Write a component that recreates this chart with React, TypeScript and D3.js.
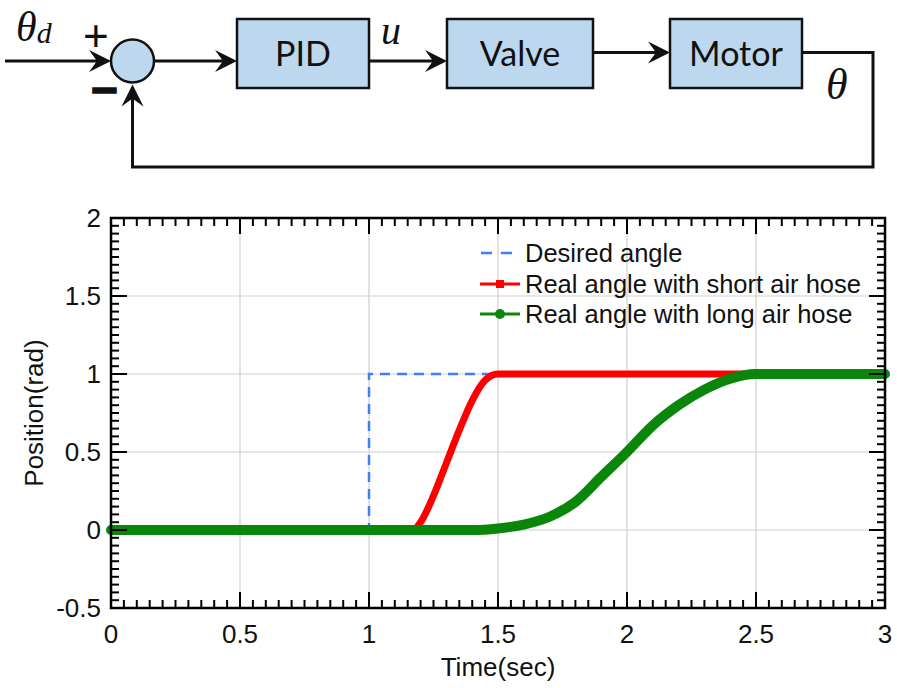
import React from "react";
import * as d3 from "d3";

// ---- data ----
const desiredT = [0, 1, 1, 3];
const desiredV = [0, 0, 1, 1];
const shortT = [0, 1.17, 1.2, 1.25, 1.3, 1.35, 1.4, 1.45, 1.5, 3];
const shortV = [0, 0, 0.05, 0.22, 0.43, 0.64, 0.83, 0.96, 1, 1];
const longT = [0, 1.4, 1.5, 1.6, 1.7, 1.8, 1.9, 2.0, 2.1, 2.2, 2.3, 2.4, 2.5, 3];
const longV = [0, 0, 0.01, 0.035, 0.085, 0.18, 0.34, 0.5, 0.67, 0.8, 0.9, 0.97, 1, 1];
const xTickLabels = ["0", "0.5", "1", "1.5", "2", "2.5", "3"];
const yTickLabels = ["-0.5", "0", "0.5", "1", "1.5", "2"];
const legendLabels = [
  "Desired angle",
  "Real angle with short air hose",
  "Real angle with long air hose",
];
const blockLabels = ["PID", "Valve", "Motor"];

const W = 897;
const H = 688;
const M = { left: 111, right: 885, top: 218, bottom: 608 };
const FONT = "'Liberation Sans', Arial, sans-serif";
const SERIF = "'Liberation Serif', 'DejaVu Serif', serif";

function arrowHead(tipX: number, tipY: number, dir: "right" | "up") {
  const L = 22, h = 11, notch = 8;
  if (dir === "right") {
    return `M${tipX},${tipY} L${tipX - L},${tipY - h} L${tipX - L + notch},${tipY} L${tipX - L},${tipY + h} Z`;
  }
  return `M${tipX},${tipY} L${tipX - h},${tipY + L} L${tipX},${tipY + L - notch} L${tipX + h},${tipY + L} Z`;
}

export default function App() {
  const x = d3.scaleLinear().domain([0, 3]).range([M.left, M.right]);
  const y = d3.scaleLinear().domain([-0.5, 2]).range([M.bottom, M.top]);

  const majorX = xTickLabels.map(Number);
  const majorY = yTickLabels.map(Number);
  const isMajor = (v: number) => Math.abs(v / 0.5 - Math.round(v / 0.5)) < 1e-6;
  const minorX = d3.range(0, 3.0001, 0.05).filter((v) => !isMajor(v));
  const minorY = d3.range(-0.5, 2.0001, 0.05).filter((v) => !isMajor(v));

  const straight = d3.line<[number, number]>().x((d) => x(d[0])).y((d) => y(d[1]));
  const smooth = d3
    .line<[number, number]>()
    .x((d) => x(d[0]))
    .y((d) => y(d[1]))
    .curve(d3.curveMonotoneX);

  const desired = desiredT.map((t, i) => [t, desiredV[i]] as [number, number]);
  const shortS = shortT.map((t, i) => [t, shortV[i]] as [number, number]);
  const longS = longT.map((t, i) => [t, longV[i]] as [number, number]);

  const majorLen = 16;
  const minorLen = 8;

  const boxes = [
    { x0: 237, x1: 369 },
    { x0: 447, x1: 593 },
    { x0: 670, x1: 802 },
  ];
  const boxTop = 19, boxBot = 88;
  const cx = 132.5, cy = 61, cr = 21.5;
  const blockFill = "#bdd7ee";
  const stroke = "#111";

  return (
    <svg width={W} height={H} style={{ position: "absolute", left: 0, top: 0, background: "#fff" }}>
      {/* ---------- Block diagram ---------- */}
      <g>
        <line x1={5} y1={cy} x2={cx - cr - 4} y2={cy} stroke={stroke} strokeWidth={3} />
        <path d={arrowHead(cx - cr, cy, "right")} fill={stroke} />
        <circle cx={cx} cy={cy} r={cr} fill={blockFill} stroke={stroke} strokeWidth={2.5} />
        <line x1={cx + cr} y1={cy} x2={boxes[0].x0 - 4} y2={cy} stroke={stroke} strokeWidth={3} />
        <path d={arrowHead(boxes[0].x0, cy, "right")} fill={stroke} />
        <line x1={boxes[0].x1} y1={cy} x2={boxes[1].x0 - 4} y2={cy} stroke={stroke} strokeWidth={3} />
        <path d={arrowHead(boxes[1].x0, cy, "right")} fill={stroke} />
        <line x1={boxes[1].x1} y1={52.5} x2={boxes[2].x0 - 4} y2={52.5} stroke={stroke} strokeWidth={3} />
        <path d={arrowHead(boxes[2].x0, 52.5, "right")} fill={stroke} />
        <polyline
          points={`${boxes[2].x1},52.5 873,52.5 873,167 ${cx},167 ${cx},${cy + cr + 8}`}
          fill="none"
          stroke={stroke}
          strokeWidth={3}
        />
        <path d={arrowHead(cx, cy + cr + 2, "up")} fill={stroke} />
        {boxes.map((b, i) => (
          <g key={i}>
            <rect x={b.x0} y={boxTop} width={b.x1 - b.x0} height={boxBot - boxTop} fill={blockFill} stroke={stroke} strokeWidth={2.5} />
            <text x={(b.x0 + b.x1) / 2} y={66} textAnchor="middle" fontFamily="Lato, 'Open Sans', sans-serif" fontSize={34} fill="#111">
              {blockLabels[i]}
            </text>
          </g>
        ))}
        <text x={16} y={41} fontFamily={SERIF} fontStyle="italic" fontSize={42} fill="#111">
          θ
          <tspan fontSize={30} dy={2}>d</tspan>
        </text>
        <text x={83} y={51} fontFamily={FONT} fontSize={44} fill="#111">+</text>
        <text x={91} y={106} fontFamily={FONT} fontSize={46} fontWeight="bold" fill="#111" stroke="#111" strokeWidth={1.5}>−</text>
        <text x={381} y={44} fontFamily={SERIF} fontStyle="italic" fontSize={40} fill="#111">u</text>
        <text x={826} y={99} fontFamily={SERIF} fontStyle="italic" fontSize={44} fill="#111">θ</text>
      </g>

      {/* ---------- Chart ---------- */}
      <g>
        {majorX.slice(1, -1).map((v) => (
          <line key={"gx" + v} x1={x(v)} x2={x(v)} y1={M.top} y2={M.bottom} stroke="#cfcfcf" strokeWidth={1.2} />
        ))}
        {majorY.slice(1, -1).map((v) => (
          <line key={"gy" + v} x1={M.left} x2={M.right} y1={y(v)} y2={y(v)} stroke="#cfcfcf" strokeWidth={1.2} />
        ))}

        <path d={straight(desired) || ""} fill="none" stroke="#3d7eff" strokeWidth={2.5} strokeDasharray="10,7" />
        <path d={smooth(shortS) || ""} fill="none" stroke="#ff0000" strokeWidth={7} strokeLinejoin="round" />
        <path d={smooth(longS) || ""} fill="none" stroke="#0a870a" strokeWidth={10} strokeLinecap="round" strokeLinejoin="round" />

        {majorX.map((v) => (
          <g key={"tx" + v}>
            <line x1={x(v)} x2={x(v)} y1={M.bottom} y2={M.bottom - majorLen} stroke="#000" strokeWidth={2} />
            <line x1={x(v)} x2={x(v)} y1={M.top} y2={M.top + majorLen} stroke="#000" strokeWidth={2} />
          </g>
        ))}
        {minorX.map((v) => (
          <g key={"mx" + v}>
            <line x1={x(v)} x2={x(v)} y1={M.bottom} y2={M.bottom - minorLen} stroke="#000" strokeWidth={2} />
            <line x1={x(v)} x2={x(v)} y1={M.top} y2={M.top + minorLen} stroke="#000" strokeWidth={2} />
          </g>
        ))}
        {majorY.map((v) => (
          <g key={"ty" + v}>
            <line x1={M.left} x2={M.left + majorLen} y1={y(v)} y2={y(v)} stroke="#000" strokeWidth={2} />
            <line x1={M.right} x2={M.right - majorLen} y1={y(v)} y2={y(v)} stroke="#000" strokeWidth={2} />
          </g>
        ))}
        {minorY.map((v) => (
          <g key={"my" + v}>
            <line x1={M.left} x2={M.left + minorLen} y1={y(v)} y2={y(v)} stroke="#000" strokeWidth={2} />
            <line x1={M.right} x2={M.right - minorLen} y1={y(v)} y2={y(v)} stroke="#000" strokeWidth={2} />
          </g>
        ))}
        <rect x={M.left} y={M.top} width={M.right - M.left} height={M.bottom - M.top} fill="none" stroke="#000" strokeWidth={2.5} />

        {xTickLabels.map((s) => (
          <text key={"xl" + s} x={x(+s)} y={643} textAnchor="middle" fontFamily={FONT} fontSize={26} fill="#111">
            {s}
          </text>
        ))}
        {yTickLabels.map((s) => (
          <text key={"yl" + s} x={101} y={y(+s)} dy="0.35em" textAnchor="end" fontFamily={FONT} fontSize={26} fill="#111">
            {s}
          </text>
        ))}
        <text x={(M.left + M.right) / 2} y={676} textAnchor="middle" fontFamily={FONT} fontSize={26} fill="#111">
          Time(sec)
        </text>
        <text transform={`translate(43,${(M.top + M.bottom) / 2}) rotate(-90)`} textAnchor="middle" fontFamily={FONT} fontSize={26} fill="#111">
          Position(rad)
        </text>

        <g fontFamily={FONT} fontSize={25.5} fill="#111">
          <line x1={481} x2={515} y1={253} y2={253} stroke="#3d7eff" strokeWidth={2.5} strokeDasharray="11,9" />
          <text x={525} y={253} dy="0.35em">{legendLabels[0]}</text>
          <line x1={480} x2={520} y1={284} y2={284} stroke="#ff0000" strokeWidth={3} />
          <rect x={496} y={280} width={8} height={8} fill="#ff0000" />
          <text x={525} y={284} dy="0.35em">{legendLabels[1]}</text>
          <line x1={480} x2={520} y1={314} y2={314} stroke="#0a870a" strokeWidth={3} />
          <circle cx={500} cy={314} r={5} fill="#0a870a" />
          <text x={525} y={314} dy="0.35em">{legendLabels[2]}</text>
        </g>
      </g>
    </svg>
  );
}
